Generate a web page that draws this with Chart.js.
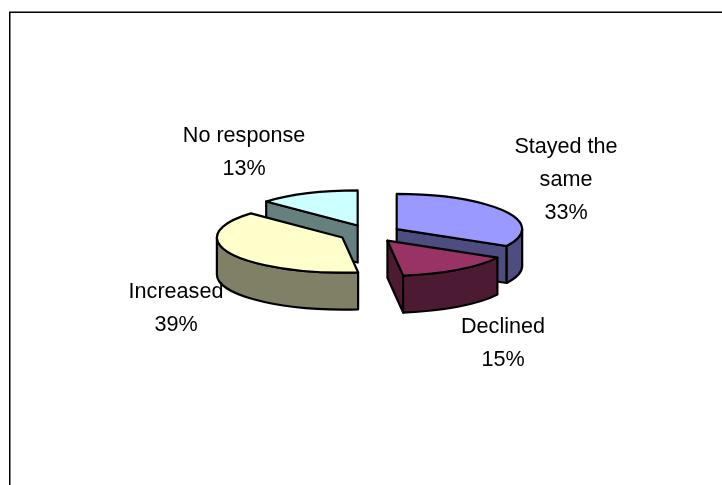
<!DOCTYPE html>
<html>
<head>
<meta charset="utf-8">
<title>Response breakdown</title>
<script src="https://cdn.jsdelivr.net/npm/chart.js@4/dist/chart.umd.min.js"></script>
<style>
  html, body { margin: 0; padding: 0; background: #fff; }
  #wrap { width: 722px; height: 485px; }
  canvas { display: block; }
</style>
</head>
<body>
<div id="wrap"><canvas id="c" width="722" height="485"></canvas></div>
<script>
const categories = ['Stayed the same', 'Declined', 'Increased', 'No response'];
const shares = [33, 15, 39, 13];
const topColours = ['#9999FF', '#993366', '#FFFFCC', '#CCFFFF'];
const wallColours = ['#4D4D80', '#4D1A33', '#808066', '#668080'];
// Label lines and their anchor points, one entry per category.
const labelLines = [['Stayed the', 'same'], ['Declined'], ['Increased'], ['No response']];
const labelAnchors = [[566, 153], [503, 333], [176, 298], [244, 142]];

const TILT = 0.28;    // vertical squash of the pie plane
const DEPTH = 37;     // extrusion height in pixels
const LINE = 2.2;

// Traces a path in the tilted plane; stroking afterwards keeps an even pen width.
function tilted(ctx, cx, cy, trace) {
  ctx.save();
  ctx.translate(cx, cy);
  ctx.scale(1, TILT);
  trace();
  ctx.restore();
}

function paintSlice(ctx, arc, cx, cy, top, wall) {
  const { startAngle: a, endAngle: b, outerRadius: r } = arc.getProps(['startAngle', 'endAngle', 'outerRadius'], true);
  const mid = (a + b) / 2;
  const off = arc.options.offset;
  const ox = Math.cos(mid) * off;
  const oy = Math.sin(mid) * off;
  const px = (t) => ox + Math.cos(t) * r;
  const py = (t) => (oy + Math.sin(t) * r) * TILT;

  const finish = (colour) => {
    ctx.fillStyle = colour;
    ctx.fill();
    ctx.stroke();
  };
  const radialWall = (t) => {
    ctx.beginPath();
    ctx.moveTo(cx + ox, cy + oy * TILT);
    ctx.lineTo(cx + px(t), cy + py(t));
    ctx.lineTo(cx + px(t), cy + py(t) + DEPTH);
    ctx.lineTo(cx + ox, cy + oy * TILT + DEPTH);
    ctx.closePath();
    finish(wall);
  };

  // Only the faces turned toward the viewer are painted.
  if (-Math.cos(a) > 1e-6) radialWall(a);
  if (Math.cos(b) > 1e-6) radialWall(b);

  const from = Math.max(a, 0);
  const to = Math.min(b, Math.PI);
  if (to > from) {
    ctx.beginPath();
    tilted(ctx, cx, cy, () => ctx.arc(ox, oy, r, from, to));
    ctx.lineTo(cx + px(to), cy + py(to) + DEPTH);
    tilted(ctx, cx, cy + DEPTH, () => ctx.arc(ox, oy, r, to, from, true));
    ctx.closePath();
    finish(wall);
  }

  ctx.beginPath();
  tilted(ctx, cx, cy, () => {
    ctx.moveTo(ox, oy);
    ctx.arc(ox, oy, r, a, b);
    ctx.closePath();
  });
  finish(top);
}

const extrudedPie = {
  id: 'extrudedPie',
  beforeDatasetDraw(chart, args) {
    const ctx = chart.ctx;
    const arcs = args.meta.data;
    const { x: cx, y: cy } = arcs[0].getProps(['x', 'y'], true);
    ctx.save();
    ctx.strokeStyle = '#000';
    ctx.lineWidth = LINE;
    ctx.lineJoin = 'round';
    const depthOf = (arc) => {
      const p = arc.getProps(['startAngle', 'endAngle'], true);
      return Math.sin((p.startAngle + p.endAngle) / 2);
    };
    arcs.map((arc, i) => ({ arc, i }))
      .sort((u, v) => depthOf(u.arc) - depthOf(v.arc))
      .forEach(({ arc, i }) => paintSlice(ctx, arc, cx, cy, topColours[i], wallColours[i]));
    ctx.restore();
    return false;
  }
};

const frameAndLabels = {
  id: 'frameAndLabels',
  beforeDraw(chart) {
    const ctx = chart.ctx;
    ctx.save();
    ctx.fillStyle = '#fff';
    ctx.fillRect(0, 0, chart.width, chart.height);
    ctx.strokeStyle = '#000';
    ctx.lineWidth = 1.5;
    ctx.beginPath();
    ctx.moveTo(9.75, chart.height);
    ctx.lineTo(9.75, 12.25);
    ctx.lineTo(chart.width, 12.25);
    ctx.stroke();
    ctx.restore();
  },
  afterDraw(chart) {
    const ctx = chart.ctx;
    ctx.save();
    ctx.fillStyle = '#000';
    ctx.font = '21.6px "Liberation Sans", Arial, sans-serif';
    ctx.textAlign = 'center';
    ctx.textBaseline = 'alphabetic';
    categories.forEach((name, i) => {
      const [x, y0] = labelAnchors[i];
      const lines = [...labelLines[i], shares[i] + '%'];
      lines.forEach((text, k) => ctx.fillText(text, x, y0 + k * 33));
    });
    ctx.restore();
  }
};

new Chart(document.getElementById('c'), {
  type: 'pie',
  data: {
    labels: categories,
    datasets: [{
      data: shares,
      backgroundColor: topColours,
      offset: 31,
      borderWidth: 1,
      borderColor: '#000'
    }]
  },
  plugins: [frameAndLabels, extrudedPie],
  options: {
    responsive: false,
    animation: false,
    layout: { padding: { left: 228.5, right: 210.5, top: 92, bottom: 110 } },
    plugins: { legend: { display: false }, tooltip: { enabled: false }, title: { display: false } }
  }
});
</script>
</body>
</html>
